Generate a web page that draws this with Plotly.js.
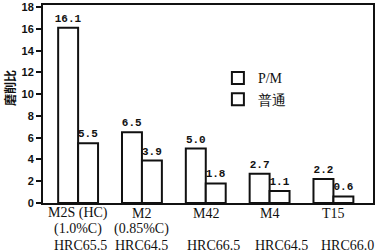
<!DOCTYPE html>
<html><head><meta charset="utf-8">
<script src="https://cdn.plot.ly/plotly-3.0.1.min.js"></script>
<style>body{margin:0;background:#fff}#c{width:382px;height:252px}</style>
</head><body><div id="c"></div>
<script>
var steels = ["M2S (HC)", "M2", "M42", "M4", "T15"];
var carbon = ["(1.0%C)", "(0.85%C)", "", "", ""];
var hardness = ["HRC65.5", "HRC64.5", "HRC66.5", "HRC64.5", "HRC66.0"];
var pmValues = [16.1, 6.5, 5.0, 2.7, 2.2];
var normalValues = [5.5, 3.9, 1.8, 1.1, 0.6];
var seriesNames = ["P/M", "普通"];
var yTicks = [0, 2, 4, 6, 8, 10, 12, 14, 16, 18];

var idx = steels.map(function(_, i){ return i; });
var barStyle = {color: "#fff", line: {color: "#111", width: 2}};
var labelFont = {family: "Liberation Mono", size: 11, color: "#111", weight: "bold"};

var traces = [
  {type: "bar", name: seriesNames[0], x: idx, y: pmValues, marker: barStyle,
   text: pmValues.map(function(v){return v.toFixed(1);}), textposition: "outside",
   textfont: labelFont, cliponaxis: false, constraintext: "none"},
  {type: "bar", name: seriesNames[1], x: idx, y: normalValues, marker: barStyle,
   text: normalValues.map(function(v){return v.toFixed(1);}), textposition: "outside",
   textfont: labelFont, cliponaxis: false, constraintext: "none"}
];

var serif = {family: "Liberation Serif", size: 14, color: "#111"};
var shifts = [2, 0, 8, 12, 14];
var ann = [];
idx.forEach(function(i){
  ann.push({x: i, y: 213, xref: "x", yref: "paper", yanchor: "middle", text: steels[i], showarrow: false, font: serif});
  if (carbon[i]) ann.push({x: i, y: 229, xref: "x", yref: "paper", yanchor: "middle", text: carbon[i], showarrow: false, font: serif});
  ann.push({x: i, y: 245, xref: "x", yref: "paper", yanchor: "middle", text: hardness[i], showarrow: false, font: serif, xshift: shifts[i]});
});
// convert pixel rows to paper coordinates (plot area top 5, bottom 203)
ann.forEach(function(a){ a.y = (203 - a.y) / 198; });
ann.push({xref: "paper", yref: "paper", x: -34/330, y: (203-88)/198, xanchor: "center", yanchor: "middle",
  text: "磨削比", textangle: -90, showarrow: false,
  font: {family: "Noto Sans CJK SC", size: 12, color: "#111", weight: "bold"}});

var layout = {
  width: 382, height: 252,
  margin: {l: 43, r: 9, t: 5, b: 49},
  paper_bgcolor: "#fff", plot_bgcolor: "#fff",
  barmode: "group", bargap: 0.375, bargroupgap: 0,
  showlegend: true,
  legend: {x: 0.53, y: 0.71, xanchor: "left", yanchor: "top", bgcolor: "rgba(0,0,0,0)",
    font: {family: "Liberation Serif", size: 14, color: "#111"}, tracegroupgap: 0, itemwidth: 30},
  xaxis: {range: [-0.55, 4.62], showticklabels: false, ticks: "", showgrid: false, zeroline: false,
    showline: true, mirror: true, linecolor: "#111", linewidth: 2, fixedrange: true},
  yaxis: {range: [0, 18.2], tickvals: yTicks, ticks: "outside", ticklen: 5, tickwidth: 2, tickcolor: "#111",
    showgrid: false, zeroline: false, showline: true, mirror: true, linecolor: "#111", linewidth: 2,
    tickfont: {family: "Liberation Sans", size: 11, color: "#111", weight: "bold"}},
  annotations: ann
};
Plotly.newPlot("c", traces, layout, {displayModeBar: false, staticPlot: true});
</script></body></html>
